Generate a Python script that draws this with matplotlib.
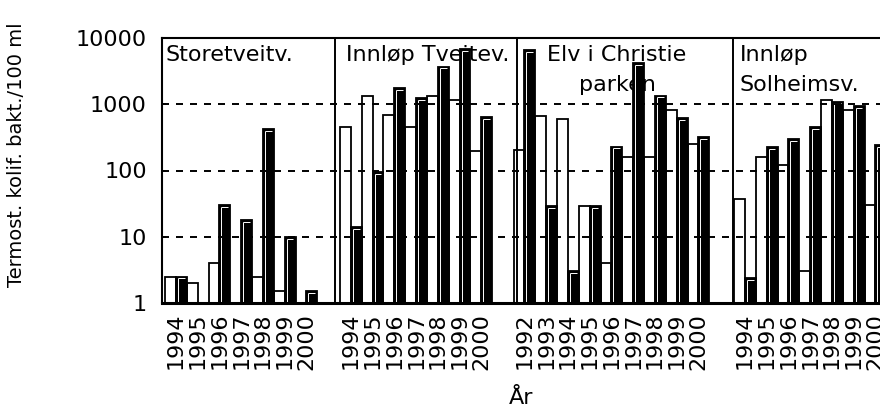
import numpy as np
import matplotlib.pyplot as plt

# Prøvesteder og år
stasjoner = ['Storetveitv.', 'Innløp Tveitev.', 'Elv i Christie\nparken', 'Innløp\nSolheimsv.']
aar_storetveit = [1994, 1995, 1996, 1997, 1998, 1999, 2000]
aar_tveitev = [1994, 1995, 1996, 1997, 1998, 1999, 2000]
aar_christie = [1992, 1993, 1994, 1995, 1996, 1997, 1998, 1999, 2000]
aar_solheim = [1994, 1995, 1996, 1997, 1998, 1999, 2000]

# Termotolerante koliforme bakterier per 100 ml, hvite og svarte søyler
storetveit_hvit = [2.5, 2, 4, np.nan, 2.5, 1.5, np.nan]
storetveit_svart = [2.5, np.nan, 30, 18, 420, 10, 1.5]
tveitev_hvit = [450, 1350, 700, 450, 1350, 1150, 200]
tveitev_svart = [14, 95, 1750, 1250, 3700, 6800, 640]
christie_hvit = [205, 660, 590, 29, 4, 160, 160, 830, 250]
christie_svart = [6600, 29, 3, 29, 230, 4200, 1350, 620, 320]
solheim_hvit = [37, 160, 120, 3, 1150, 830, 30]
solheim_svart = [2.4, 225, 300, 450, 1100, 950, 240]

y_ticks = [1, 10, 100, 1000, 10000]
y_ticklabels = ['1', '10', '100', '1000', '10000']

# plassering av panelene (ett år = én enhet)
panel_start = [0.14, 8.18, 16.16, 26.3]
skillelinjer = [7.95, 16.3, 26.25]
tittel_x = [0.18, 8.46, 20.92, 26.57]
tittel_ha = ['left', 'left', 'center', 'left']

aar_lister = [aar_storetveit, aar_tveitev, aar_christie, aar_solheim]
hvite = [storetveit_hvit, tveitev_hvit, christie_hvit, solheim_hvit]
svarte = [storetveit_svart, tveitev_svart, christie_svart, solheim_svart]

fig = plt.figure(figsize=(8.8, 4.12), dpi=100)
ax = fig.add_axes([162 / 880, 1 - 303 / 412, (882 - 162) / 880, (303 - 38) / 412])
ax.set_yscale('log')
ax.set_ylim(1, 10000)
ax.set_xlim(0, 33.1)

tick_pos = []
tick_lab = []
for start, aar, hvit, svart in zip(panel_start, aar_lister, hvite, svarte):
    x = start + np.arange(len(aar))
    svart = np.array(svart, dtype=float)
    ax.bar(x, hvit, width=0.5, align='edge', color='white', edgecolor='black', linewidth=1.3, zorder=2)
    ax.bar(x + 0.5, svart, width=0.5, align='edge', color='black', edgecolor='black', linewidth=1.3, zorder=2)
    # tynn hvit kant inne i de svarte søylene
    ax.vlines(x + 0.59, 1, svart * 0.94, color='white', linewidth=0.7, zorder=2.2)
    ax.hlines(svart * 0.94, x + 0.59, x + 0.9, color='white', linewidth=0.7, zorder=2.2)
    tick_pos.extend(x + 0.5)
    tick_lab.extend(str(a) for a in aar)

# stiplede hjelpelinjer
for v in [10, 100, 1000]:
    ax.axhline(v, color='black', linewidth=1.4, dashes=(3.6, 3.6), zorder=2.5)

for d in skillelinjer:
    ax.axvline(d, color='black', linewidth=1.4, zorder=3)

trans = ax.get_xaxis_transform()
for navn, tx, ha in zip(stasjoner, tittel_x, tittel_ha):
    ax.text(tx, 0.975, navn, transform=trans, ha=ha, va='top', fontsize=16,
            linespacing=1.65, zorder=1.5)

ax.set_xticks(tick_pos)
ax.set_xticklabels(tick_lab, rotation=90, fontsize=16)
ax.tick_params(axis='x', length=0, pad=7)
ax.set_yticks(y_ticks)
ax.set_yticklabels(y_ticklabels, fontsize=16)
ax.yaxis.set_minor_locator(plt.NullLocator())
ax.tick_params(axis='y', direction='in', length=3, width=1.2, pad=11)

ax.spines['right'].set_visible(False)
ax.spines['top'].set_linewidth(1.5)
ax.spines['left'].set_linewidth(1.5)
ax.spines['bottom'].set_linewidth(2.2)

fig.text(521 / 880, 1 - 398 / 412, 'År', ha='center', va='center', fontsize=16)
fig.text(17 / 880, 1 - 155 / 412, 'Termost. kolif. bakt./100 ml', rotation=90,
         ha='center', va='center', fontsize=14)

fig.savefig('out.png', dpi=100)
